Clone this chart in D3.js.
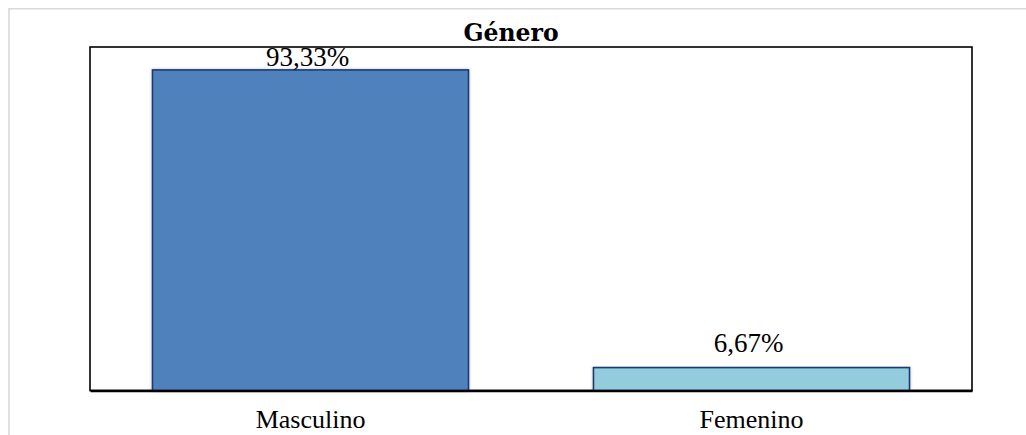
<!DOCTYPE html>
<html>
<head>
<meta charset="utf-8">
<script src="https://cdn.jsdelivr.net/npm/d3@7/dist/d3.min.js"></script>
<style>
  html, body { margin: 0; padding: 0; background: #fff; }
  svg { display: block; }
</style>
</head>
<body>
<svg id="chart" width="1026" height="435"></svg>
<script>
// Gender distribution of respondents
const categories = ["Masculino", "Femenino"];
const values = [93.33, 6.67];
const valueLabels = ["93,33%", "6,67%"];
const barColors = ["#4F81BD", "#93CDDD"];
const chartTitle = "Género";

const svg = d3.select("#chart");
const W = 1026, H = 435;
const plot = { left: 90, top: 47, right: 972, bottom: 390.5 };
const serif = "'Liberation Serif', 'Times New Roman', serif";

// outer light frame of the chart object
svg.append("path")
  .attr("d", `M9,${H + 2} V8.75 H${W + 2}`)
  .attr("fill", "none")
  .attr("stroke", "#d9d9d9")
  .attr("stroke-width", 1.6);

const x = d3.scaleBand()
  .domain(categories)
  .range([plot.left, plot.right])
  .paddingInner(0.2834)
  .paddingOuter(0.1417);

const y = d3.scaleLinear()
  .domain([0, 100])
  .range([plot.bottom, plot.top]);

// plot area frame
svg.append("rect")
  .attr("x", plot.left)
  .attr("y", plot.top)
  .attr("width", plot.right - plot.left)
  .attr("height", plot.bottom - plot.top)
  .attr("fill", "#fff")
  .attr("stroke", "#000")
  .attr("stroke-width", 1.6);

const data = categories.map((c, i) => ({ c, v: values[i], label: valueLabels[i], color: barColors[i] }));

// soft shadow under bars
const defs = svg.append("defs");
const f = defs.append("filter").attr("id", "shadow").attr("x", "-5%").attr("y", "-5%").attr("width", "110%").attr("height", "110%");
f.append("feDropShadow").attr("dx", 0).attr("dy", 0).attr("stdDeviation", 1.5).attr("flood-color", "#000").attr("flood-opacity", 0.25);

svg.append("g").selectAll("rect")
  .data(data)
  .join("rect")
  .attr("x", d => x(d.c))
  .attr("y", d => y(d.v))
  .attr("width", x.bandwidth())
  .attr("height", d => y(0) - y(d.v))
  .attr("fill", d => d.color)
  .attr("stroke", "#1F3B73")
  .attr("stroke-width", 1.6)
  .attr("filter", "url(#shadow)");

// category axis baseline
const xAxis = d3.axisBottom(x).tickSize(0).tickPadding(19);
const gx = svg.append("g")
  .attr("transform", `translate(0,${plot.bottom})`)
  .call(xAxis);
gx.select(".domain").attr("stroke", "#000").attr("stroke-width", 2.4);
gx.selectAll("text")
  .attr("font-family", serif)
  .attr("font-size", 26)
  .attr("fill", "#000")
  .attr("dy", "0.71em");

// value labels (kept inside the plot frame)
svg.append("g").selectAll("text")
  .data(data)
  .join("text")
  .attr("x", d => x(d.c) + x.bandwidth() / 2 - 3)
  .attr("y", d => Math.max(y(d.v) - 15.5, plot.top + 19))
  .attr("text-anchor", "middle")
  .attr("font-family", serif)
  .attr("font-size", 27)
  .attr("fill", "#000")
  .text(d => d.label);

// title
svg.append("text")
  .attr("x", 511)
  .attr("y", 40.5)
  .attr("text-anchor", "middle")
  .attr("font-family", "'DejaVu Serif', serif")
  .attr("font-weight", "bold")
  .attr("font-size", 23.5)
  .attr("fill", "#000")
  .text(chartTitle);
</script>
</body>
</html>
